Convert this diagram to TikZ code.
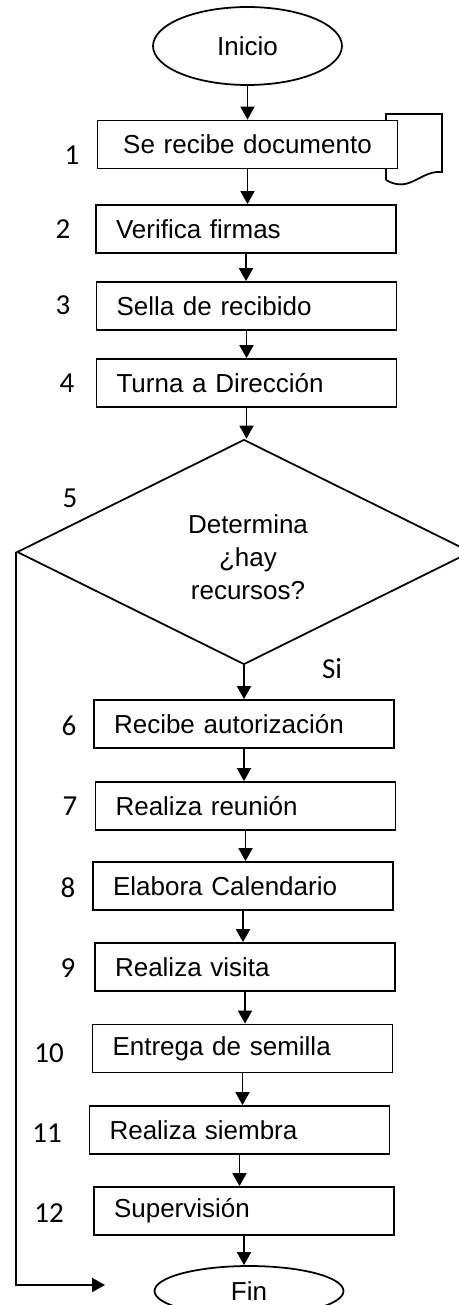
\documentclass[tikz,border=0pt]{standalone}
\usepackage{fontspec}
\setmainfont{Liberation Sans}
\newfontfamily\numfont{Carlito}
\usetikzlibrary{arrows.meta,shapes.geometric}
\newcommand{\flowFont}{\fontsize{14.8}{18.7}\selectfont}
\newcommand{\numFont}{\fontsize{16.5}{19}\selectfont}
\newcommand{\boxHeight}{0.96cm}
\newcommand{\termWidth}{3.78cm}

\begin{document}
\begin{tikzpicture}[x=0.02cm, y=-0.02cm, line width=1pt, font=\flowFont,
    paso/.style={draw, fill=white, rectangle, text width=5.2cm, inner xsep=0.4cm,
      inner ysep=0pt, minimum height=\boxHeight, align=left},
    terminal/.style={draw, ellipse, minimum width=\termWidth, inner sep=0pt},
    decision/.style={draw, diamond, minimum width=9.08cm, minimum height=4.5cm,
      inner sep=0pt},
    numero/.style={font={\numfont\numFont}},
    flecha/.style={-{Triangle[length=0.26cm, width=0.28cm]}}]
\useasboundingbox (0,0) rectangle (458,1305);
% hoja del documento, detras del paso 1
\draw[fill=white] (386,180) -- (386,114) -- (442,114) -- (442,172)
  .. controls (420,170) and (410,194) .. (386,180);
\node[terminal, minimum height=1.56cm] (inicio) at (247.5,46) {Inicio};
\node[paso, align=center] (recibe) at (247.5,144.5) {Se recibe documento};
\node[paso] (firmas) at (246,229) {Verifica firmas};
\node[paso] (sella) at (246.5,306) {Sella de recibido};
\node[paso] (turna) at (246.5,383) {Turna a Direcci\'on};
\node[decision] (recursos) at (244,552) {};
\node[align=center] (pregunta) at (248,557) {Determina\\¿hay\\recursos?};
\node[paso] (autoriza) at (244,724) {Recibe autorizaci\'on};
\node[paso] (reunion) at (245.5,806) {Realiza reuni\'on};
\node[paso] (calendario) at (243,886) {Elabora Calendario};
\node[paso] (visita) at (245,967) {Realiza visita};
\node[paso] (semilla) at (242.5,1048.5) {Entrega de semilla};
\node[paso] (siembra) at (239.5,1130) {Realiza siembra};
\node[paso] (supervision) at (244,1211) {Supervisi\'on};
\node[terminal, minimum height=1.0cm] (fin) at (249,1291) {Fin};
% numeros de paso
\node[numero] (n1) at (72,155) {1};
\node[numero] (n2) at (63,229) {2};
\node[numero] (n3) at (63,305) {3};
\node[numero] (n4) at (67,383) {4};
\node[numero] (n5) at (70,498) {5};
\node[numero] (n6) at (69,726) {6};
\node[numero] (n7) at (70,806) {7};
\node[numero] (n8) at (68,888) {8};
\node[numero] (n9) at (68,968) {9};
\node[numero] (n10) at (49,1053) {10};
\node[numero] (n11) at (47,1133) {11};
\node[numero] (n12) at (49,1213) {12};
\node[numero] (si) at (332,669) {Si};
% flechas
\draw[flecha] (inicio.south) -- (inicio.south |- recibe.north);
\draw[flecha] (recibe.south) -- (recibe.south |- firmas.north);
\draw[flecha] (firmas.south) -- (firmas.south |- sella.north);
\draw[flecha] (sella.south) -- (sella.south |- turna.north);
\draw[flecha] (turna.south) -- (turna.south |- recursos.north);
\draw[flecha] (recursos.south) -- (recursos.south |- autoriza.north);
\draw[flecha] (autoriza.south) -- (autoriza.south |- reunion.north);
\draw[flecha] (reunion.south) -- (reunion.south |- calendario.north);
\draw[flecha] (calendario.south) -- (calendario.south |- visita.north);
\draw[flecha] (visita.south) -- (visita.south |- semilla.north);
\draw[flecha] (semilla.south) -- (semilla.south |- siembra.north);
\draw[flecha] (siembra.south) -- (siembra.south |- supervision.north);
\draw[flecha] (supervision.south) -- (supervision.south |- fin.north);
\coordinate (llegada) at (105,1285);
\draw[flecha] (recursos.west) |- (llegada);
\end{tikzpicture}
\end{document}
